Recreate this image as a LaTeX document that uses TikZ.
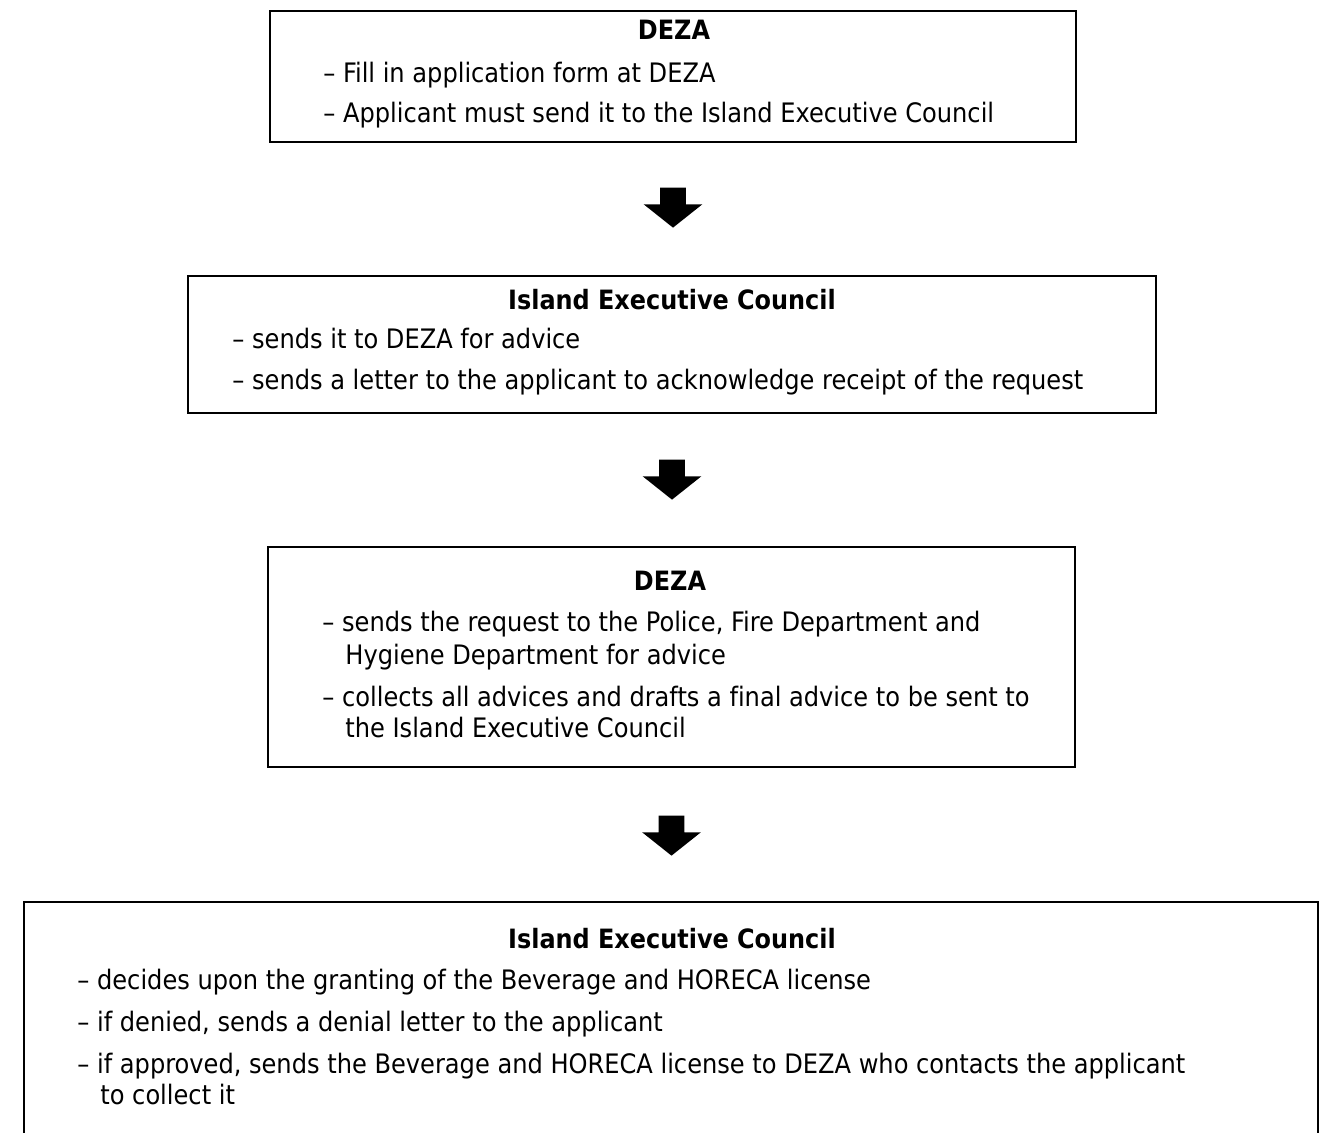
\documentclass[tikz,border=0pt]{standalone}
\usepackage{fontspec}
\setmainfont{DejaVu Sans Condensed}[Ligatures=NoCommon]
\usetikzlibrary{shapes.arrows,positioning}

\tikzset{
  txt/.style={font=\fontsize{13.4pt}{16pt}\selectfont, inner sep=0pt, anchor=base west},
  ttl/.style={font=\fontsize{13.3pt}{16pt}\selectfont\bfseries, inner sep=0pt, anchor=base},
  box/.style={draw, rectangle, line width=1.25pt, inner sep=0pt},
  blockarrow/.style={single arrow, fill=black, draw=none, shape border rotate=270,
    inner sep=6.25pt, single arrow head extend=8.25pt, single arrow tip angle=103,
    minimum height=20pt, anchor=tail}
}

\begin{document}
\begin{tikzpicture}[x=0.5pt,y=-0.5pt]
\useasboundingbox (0,0) rectangle (1322,1133);

% boxes
\node[box, minimum width=403pt, minimum height=65.5pt] (deza1) at (673,76.5) {};
\node[box, minimum width=484pt, minimum height=68.5pt] (iec1) at (672,344.5) {};
\node[box, minimum width=403.5pt, minimum height=110pt] (deza2) at (671.5,657) {};
\node[box, minimum width=647pt, minimum height=129pt] (iec2) at (671,1031) {};

% arrows
\node[blockarrow] (arr1) at ([yshift=-22pt]deza1.south) {};
\node[blockarrow] (arr2) at ([yshift=-22.5pt]iec1.south) {};
\node[blockarrow] (arr3) at ([yshift=-23.5pt]deza2.south) {};

% texts of the first box
\node[ttl] (t1) at (674,40) {DEZA};
\node[txt] (t1a) at (323,83) {– Fill in application form at DEZA};
\node[txt] (t1b) at (323,123) {– Applicant must send it to the Island Executive Council};

% texts of the second box
\node[ttl] (t2) at (672,310) {Island Executive Council};
\node[txt] (t2a) at (232,349) {– sends it to DEZA for advice};
\node[txt] (t2b) at (232,390) {– sends a letter to the applicant to acknowledge receipt of the request};

% texts of the third box
\node[ttl] (t3) at (670,590) {DEZA};
\node[txt] (t3a) at (322,632) {– sends the request to the Police, Fire Department and};
\node[txt] (t3b) at (345,664) {Hygiene Department for advice};
\node[txt] (t3c) at (322,706) {– collects all advices and drafts a final advice to be sent to};
\node[txt] (t3d) at (345,737) {the Island Executive Council};

% texts of the fourth box
\node[ttl] (t4) at (672,948) {Island Executive Council};
\node[txt] (t4a) at (77,989) {– decides upon the granting of the Beverage and HORECA license};
\node[txt] (t4b) at (77,1031) {– if denied, sends a denial letter to the applicant};
\node[txt] (t4c) at (77,1073) {– if approved, sends the Beverage and HORECA license to DEZA who contacts the applicant};
\node[txt] (t4d) at (100,1104) {to collect it};
\end{tikzpicture}
\end{document}
